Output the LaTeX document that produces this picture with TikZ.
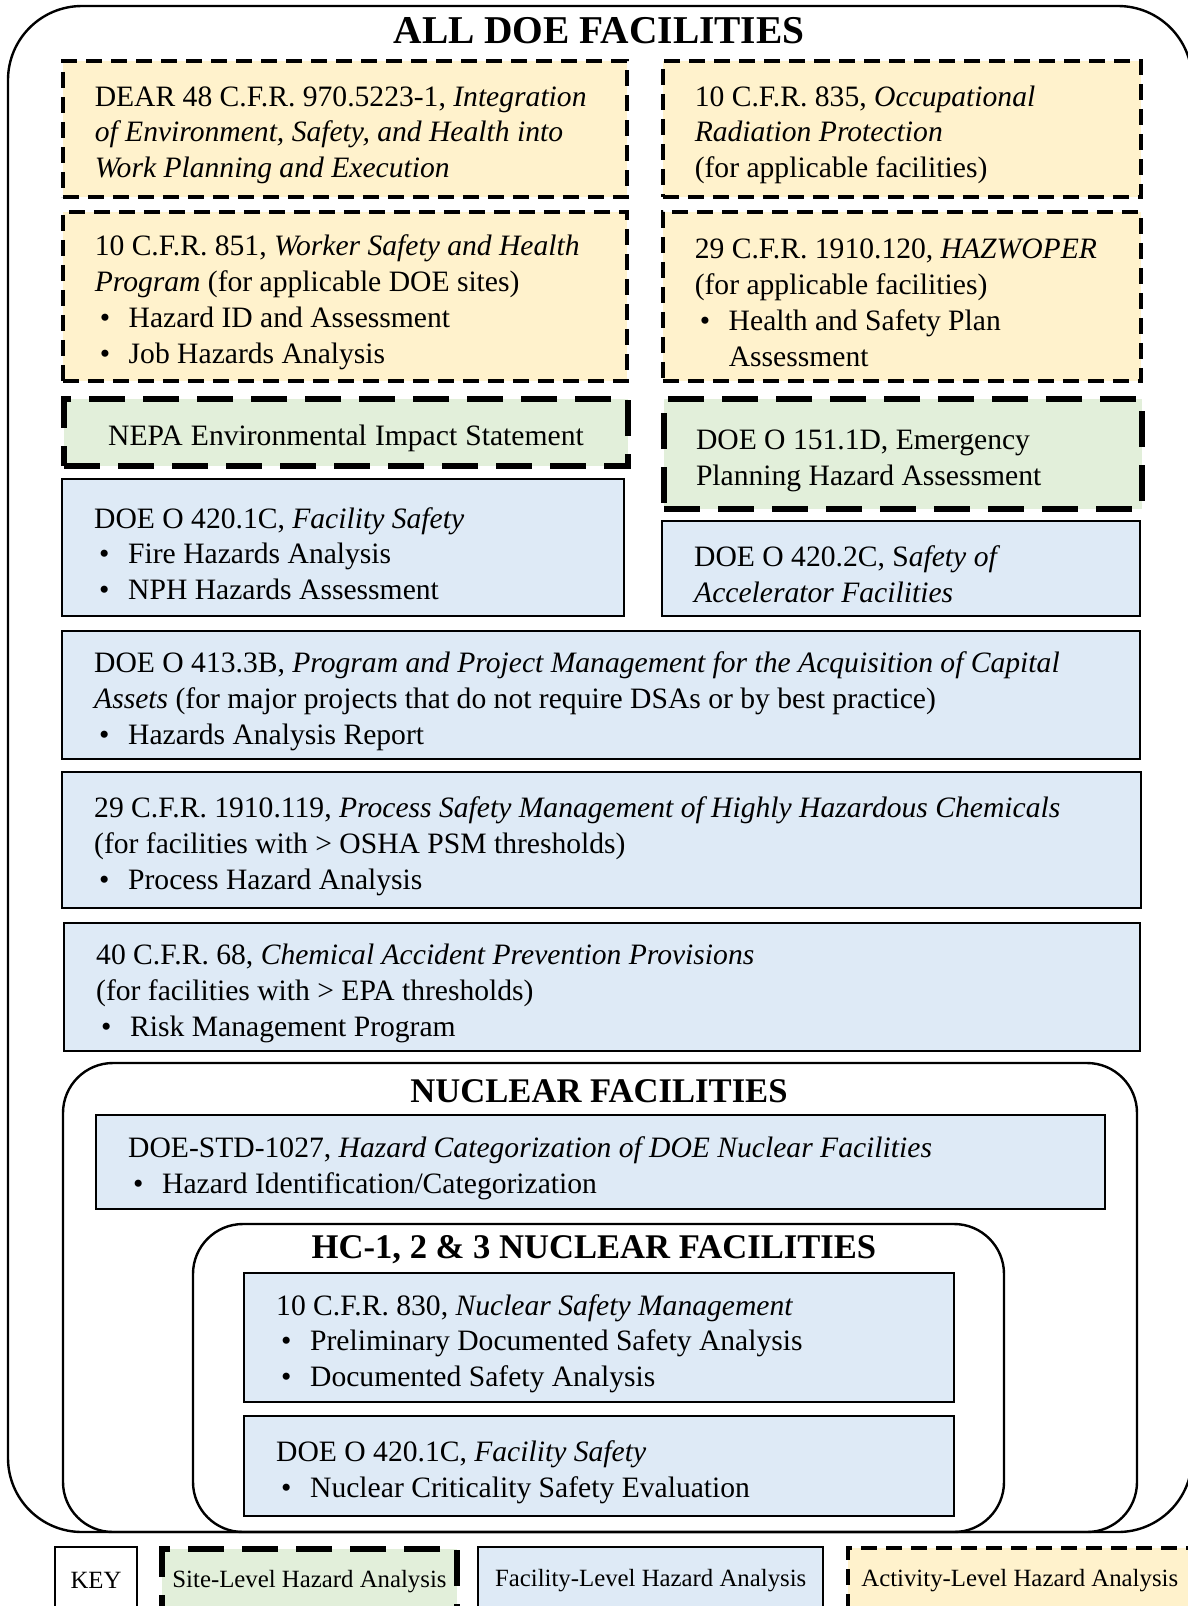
\documentclass[tikz,border=0pt]{standalone}
\usepackage{fontspec}
\setmainfont{Liberation Serif}
\usepackage{tikz}
\definecolor{actfill}{HTML}{FFF2CC}
\definecolor{sitefill}{HTML}{E2EFDA}
\definecolor{facfill}{HTML}{DEEAF6}
\newcommand{\bodyfont}{\fontsize{14.8}{17.9}\selectfont}
\newcommand{\bul}{\makebox[17pt][l]{\hspace{2.5pt}\textbullet}}
\newcommand{\hangin}{\hspace*{17pt}}
\tikzset{
  box/.style={anchor=north west, inner xsep=16pt, inner ysep=0pt, align=flush left, font=\bodyfont,
    execute at begin node={\spaceskip=0pt\xspaceskip=0pt\rule{0pt}{16.3pt}}},
  actline/.style={fill=actfill, draw=black, line width=1.75pt, dash pattern=on 8pt off 4.5pt},
  siteline/.style={fill=sitefill, draw=black, line width=3pt, dash pattern=on 18pt off 9pt},
  facline/.style={fill=facfill, draw=black, line width=1.2pt},
  act/.style={box, actline},
  site/.style={box, siteline},
  fac/.style={box, facline},
  sz/.code 2 args={%
    \pgfmathsetmacro\boxw{0.5*#1}\pgfmathsetmacro\boxh{0.5*#2}\pgfmathsetmacro\boxt{0.5*#1-32}%
    \edef\tmp{\noexpand\pgfkeysalso{minimum width=\boxw pt, minimum height=\boxh pt, text width=\boxt pt}}\tmp},
  wh/.code 2 args={%
    \pgfmathsetmacro\boxw{0.5*#1}\pgfmathsetmacro\boxh{0.5*#2}%
    \edef\tmp{\noexpand\pgfkeysalso{minimum width=\boxw pt, minimum height=\boxh pt}}\tmp},
  keyb/.style={anchor=north west, inner sep=0pt, align=center, font=\fontsize{12.4}{14}\selectfont},
  frame/.style={draw=black, line width=1.2pt},
  ttl/.style={font=\bfseries\fontsize{19.7}{22}\selectfont},
  subttl/.style={font=\bfseries\fontsize{17.3}{20}\selectfont},
}

\begin{document}
\begin{tikzpicture}[x=0.5pt, y=-0.5pt]
  \useasboundingbox (0,0) rectangle (1188,1606);

  % nested frames
  \draw[frame, rounded corners=37pt] (8,6) rectangle (1192,1532);
  \draw[frame, rounded corners=25pt] (63,1063) rectangle (1137,1532);
  \draw[frame, rounded corners=25pt] (193,1224) rectangle (1004,1532);

  \node[ttl] (alldoe) at (599,31) {ALL DOE FACILITIES};
  \node[subttl] (nuclear) at (599,1091) {NUCLEAR FACILITIES};
  \node[subttl] (hcnuc) at (594,1250) {HC-1, 2 \& 3 NUCLEAR FACILITIES};

  % activity level
  \node[act, sz={564}{136}] (dear) at (61,59)
    {DEAR 48 C.F.R. 970.5223-1, \textit{Integration}\\
     \textit{of Environment, Safety, and Health into}\\
     \textit{Work Planning and Execution}};
  \node[act, sz={478}{136}] (radprot) at (661,59)
    {10 C.F.R. 835, \textit{Occupational}\\
     \textit{Radiation Protection}\\
     (for applicable facilities)};
  \node[act, sz={564}{169}] (wsh) at (61,210)
    {10 C.F.R. 851, \textit{Worker Safety and Health}\\
     \textit{Program} (for applicable DOE sites)\\
     \bul Hazard ID and Assessment\\
     \bul Job Hazards Analysis};
  \node[act, sz={478}{169}] (hazwop) at (661,210)
    {29 C.F.R. 1910.120, \textit{HAZWOPER}\\
     (for applicable facilities)\\
     \bul Health and Safety Plan\\
     \hangin Assessment};

  % site level
  \node[site, sz={564}{67}, align=center] (nepa) at (61,396)
    {NEPA Environmental Impact Statement};
  \node[site, sz={478}{110}] (emerg) at (661,396)
    {DOE O 151.1D, Emergency\\
     Planning Hazard Assessment};

  % facility level
  \node[fac, sz={562}{137}] (firesafe) at (61,478)
    {DOE O 420.1C, \textit{Facility Safety}\\
     \bul Fire Hazards Analysis\\
     \bul NPH Hazards Assessment};
  \node[fac, sz={478}{95}] (accel) at (661,520)
    {DOE O 420.2C, S\textit{afety of}\\
     \textit{Accelerator Facilities}};
  \node[fac, sz={1078}{128}] (capital) at (61,630)
    {DOE O 413.3B, \textit{Program and Project Management for the Acquisition of Capital}\\
     \textit{Assets} (for major projects that do not require DSAs or by best practice)\\
     \bul Hazards Analysis Report};
  \node[fac, sz={1079}{136}] (psm) at (61,771)
    {29 C.F.R. 1910.119, \textit{Process Safety Management of Highly Hazardous Chemicals}\\
     (for facilities with > OSHA PSM thresholds)\\
     \bul Process Hazard Analysis};
  \node[fac, sz={1076}{128}] (chemprev) at (63,922)
    {40 C.F.R. 68, \textit{Chemical Accident Prevention Provisions}\\
     (for facilities with > EPA thresholds)\\
     \bul Risk Management Program};
  \node[fac, sz={1009}{94}] (hazcat) at (95,1114)
    {DOE-STD-1027, \textit{Hazard Categorization of DOE Nuclear Facilities}\\
     \bul Hazard Identification/Categorization};
  \node[fac, sz={710}{129}] (nucsafe) at (243,1272)
    {10 C.F.R. 830, \textit{Nuclear Safety Management}\\
     \bul Preliminary Documented Safety Analysis\\
     \bul Documented Safety Analysis};
  \node[fac, sz={710}{100}] (crit) at (243,1415)
    {DOE O 420.1C, \textit{Facility Safety}\\
     \bul Nuclear Criticality Safety Evaluation};

  % key
  \node[keyb, wh={82}{66}, draw=black, line width=1pt] (keylbl) at (54,1546) {KEY};
  \node[keyb, siteline, wh={295}{66}] (keysite) at (159,1546) {Site-Level Hazard Analysis};
  \node[keyb, facline, wh={345}{66}] (keyfac) at (477,1546) {Facility-Level Hazard Analysis};
  \node[keyb, actline, wh={344}{66}] (keyact) at (846,1546) {Activity-Level Hazard Analysis};
\end{tikzpicture}
\end{document}
